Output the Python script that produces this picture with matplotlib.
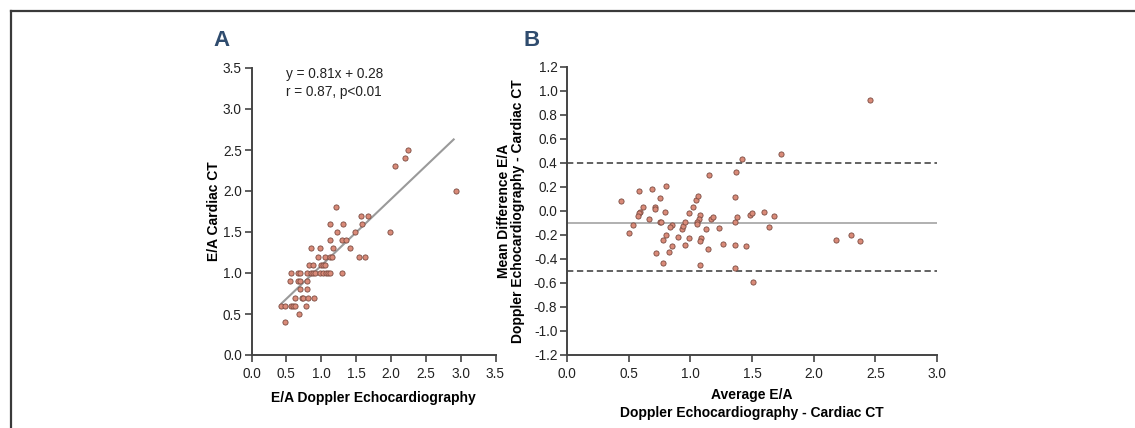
import matplotlib
matplotlib.use("Agg")
import matplotlib.pyplot as plt
import numpy as np

plt.rcParams['font.family'] = ['Liberation Sans', 'DejaVu Sans']

# ---------- Panel A data: E/A Doppler vs E/A Cardiac CT ----------
a_x = [0.43, 0.48, 0.57, 0.59, 0.63, 0.78,
       0.68, 0.48,
       0.63, 0.72, 0.74, 0.81, 0.90,
       0.70, 0.79,
       0.55, 0.66, 0.69, 0.79,
       0.57, 0.66, 0.70, 0.79, 0.86, 0.88, 0.91, 0.98, 1.02, 1.07, 1.10, 1.13, 1.30,
       0.82, 0.88, 1.00, 1.02, 1.05,
       0.95, 1.05, 1.12, 1.16, 1.54, 1.63,
       0.86, 0.98, 1.17, 1.42,
       1.13, 1.30, 1.35,
       1.22, 1.48, 1.98,
       1.12, 1.31, 1.59,
       1.57, 1.67,
       1.21,
       2.06, 2.20, 2.25, 2.93]
a_y = [0.6, 0.6, 0.6, 0.6, 0.6, 0.6,
       0.5, 0.4,
       0.7, 0.7, 0.7, 0.7, 0.7,
       0.8, 0.8,
       0.9, 0.9, 0.9, 0.9,
       1.0, 1.0, 1.0, 1.0, 1.0, 1.0, 1.0, 1.0, 1.0, 1.0, 1.0, 1.0, 1.0,
       1.1, 1.1, 1.1, 1.1, 1.1,
       1.2, 1.2, 1.2, 1.2, 1.2, 1.2,
       1.3, 1.3, 1.3, 1.3,
       1.4, 1.4, 1.4,
       1.5, 1.5, 1.5,
       1.6, 1.6, 1.6,
       1.7, 1.7,
       1.8,
       2.3, 2.4, 2.5, 2.0]
slope, intercept = 0.81, 0.28
fit_x_range = [0.43, 2.90]
eq_lines = ["y = 0.81x + 0.28", "r = 0.87, p<0.01"]

# ---------- Panel B data: Bland-Altman ----------
b_x = [0.44, 0.58, 0.69, 0.80, 0.755, 0.615, 0.71, 0.71, 0.593, 0.585, 0.577,
       0.796, 0.664, 0.534, 0.506, 0.755, 0.76, 0.853, 0.837, 0.804, 0.777,
       0.723, 0.782, 0.831, 0.853, 0.896, 0.932, 0.942, 0.956, 0.991, 1.021,
       1.045, 1.062, 1.08, 1.067, 1.054, 1.054, 0.991, 0.959, 1.089, 1.075,
       1.145, 1.078, 1.127, 1.167, 1.181, 1.151, 1.229, 1.267, 1.359, 1.375,
       1.362, 1.367, 1.416, 1.362, 1.359, 1.454, 1.484, 1.497, 1.509, 1.598,
       1.682, 1.638, 1.738, 2.459, 2.183, 2.30, 2.375]
b_y = [0.08, 0.17, 0.185, 0.205, 0.11, 0.03, 0.03, 0.015, -0.005, -0.02, -0.04,
       -0.005, -0.066, -0.116, -0.18, -0.09, -0.095, -0.114, -0.133, -0.20, -0.244,
       -0.35, -0.43, -0.343, -0.29, -0.213, -0.147, -0.125, -0.09, -0.017, 0.03,
       0.089, 0.122, -0.036, -0.069, -0.089, -0.106, -0.222, -0.28, -0.227, -0.252,
       -0.32, -0.45, -0.147, -0.069, -0.052, 0.30, -0.141, -0.272, -0.089, -0.05,
       0.119, 0.327, 0.43, -0.283, -0.477, -0.291, -0.031, -0.019, -0.59, -0.008,
       -0.042, -0.13, 0.471, 0.922, -0.241, -0.20, -0.252]
mean_diff = -0.10
upper_loa = 0.40
lower_loa = -0.50

a_xticks = [0.0, 0.5, 1.0, 1.5, 2.0, 2.5, 3.0, 3.5]
a_yticks = [0.0, 0.5, 1.0, 1.5, 2.0, 2.5, 3.0, 3.5]
b_xticks = [0.0, 0.5, 1.0, 1.5, 2.0, 2.5, 3.0]
b_yticks = [1.2, 1.0, 0.8, 0.6, 0.4, 0.2, 0.0, -0.2, -0.4, -0.6, -0.8, -1.0, -1.2]

W, H = 1135, 428
fig = plt.figure(figsize=(W / 100, H / 100), dpi=100)

# frame lines
fig.add_artist(plt.Line2D([10.5 / W, 1.0], [1 - 10.5 / H, 1 - 10.5 / H], color='#3a3a3a', lw=1.6,
                          transform=fig.transFigure))
fig.add_artist(plt.Line2D([10.5 / W, 10.5 / W], [0, 1 - 10.5 / H], color='#3a3a3a', lw=1.6,
                          transform=fig.transFigure))

face = '#d98a78'
edge = '#7a4a40'
spine_c = '#444444'
tick_fs = 9.8
lab_fs = 10


def style(ax):
    for s in ['top', 'right']:
        ax.spines[s].set_visible(False)
    for s in ['left', 'bottom']:
        ax.spines[s].set_color(spine_c)
        ax.spines[s].set_linewidth(1.4)
    ax.tick_params(direction='out', length=5, width=1.2, color=spine_c,
                   labelsize=tick_fs, labelcolor='#222222')
    ax.tick_params(axis='x', pad=4)
    ax.tick_params(axis='y', pad=2)


# Panel A
axA = fig.add_axes([251.5 / W, (H - 355) / H, 244 / W, 287 / H])
axA.set_xlim(0, 3.5)
axA.set_ylim(0, 3.5)
fx = np.array(fit_x_range)
axA.plot(fx, slope * fx + intercept, color='#9a9a9a', lw=1.5, zorder=2)
axA.scatter(a_x, a_y, s=14, facecolor=face, edgecolor=edge, linewidth=0.6, zorder=3)
axA.set_xticks(a_xticks)
axA.set_yticks(a_yticks)
axA.set_xticklabels([f"{t:.1f}" for t in a_xticks])
axA.set_yticklabels([f"{t:.1f}" for t in a_yticks])
style(axA)
axA.set_xlabel("E/A Doppler Echocardiography", fontsize=lab_fs, fontweight='bold', labelpad=7)
axA.set_ylabel("E/A Cardiac CT", fontsize=lab_fs, fontweight='bold', labelpad=1)
axA.text(0.49, 3.43, eq_lines[0], fontsize=tick_fs, va='center', ha='left', color='#222222')
axA.text(0.49, 3.21, eq_lines[1], fontsize=tick_fs, va='center', ha='left', color='#222222')

# Panel B
axB = fig.add_axes([567 / W, (H - 355) / H, 370 / W, 288 / H])
axB.set_xlim(0, 3.0)
axB.set_ylim(-1.2, 1.2)
axB.axhline(mean_diff, color='#aaaaaa', lw=1.3, zorder=1)
axB.axhline(upper_loa, color='#555555', lw=1.3, ls=(0, (3.5, 2)), zorder=1)
axB.axhline(lower_loa, color='#555555', lw=1.3, ls=(0, (3.5, 2)), zorder=1)
axB.scatter(b_x, b_y, s=14, facecolor=face, edgecolor=edge, linewidth=0.6, zorder=3)
axB.set_xticks(b_xticks)
axB.set_yticks(b_yticks)
axB.set_xticklabels([f"{t:.1f}" for t in b_xticks])
axB.set_yticklabels([f"{t:.1f}" for t in b_yticks])
style(axB)
axB.set_xlabel("Average E/A\nDoppler Echocardiography - Cardiac CT", fontsize=lab_fs,
               fontweight='bold', labelpad=5, linespacing=1.35)
axB.set_ylabel("Mean Difference E/A\nDoppler Echocardiography - Cardiac CT", fontsize=lab_fs,
               fontweight='bold', labelpad=6, linespacing=1.05)

# Panel letters
letter_c = '#2f4c6e'
fig.text(221 / W, 1 - 40 / H, "A", fontsize=16, fontweight='bold', color=letter_c,
         ha='center', va='center')
fig.text(532 / W, 1 - 40 / H, "B", fontsize=16, fontweight='bold', color=letter_c,
         ha='center', va='center')

fig.savefig("out.png", dpi=100)
